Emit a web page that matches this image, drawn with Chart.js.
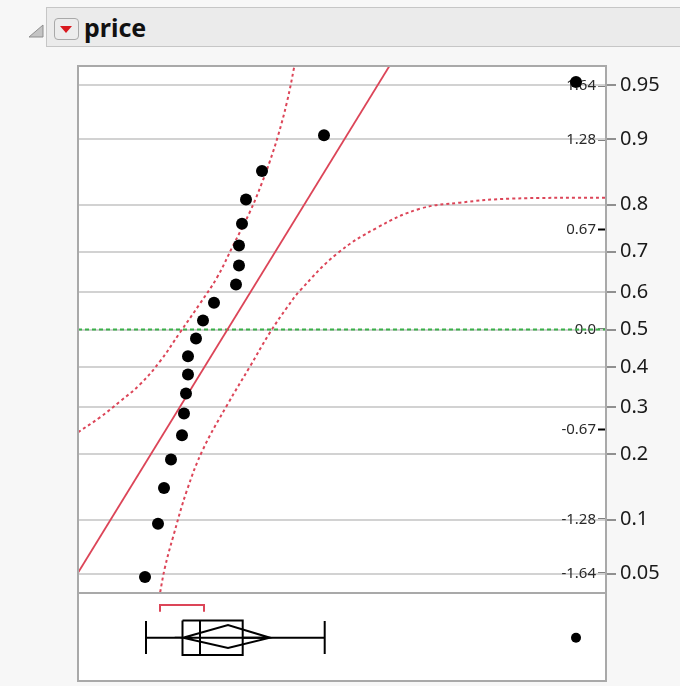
<!DOCTYPE html>
<html>
<head>
<meta charset="utf-8">
<script src="https://cdn.jsdelivr.net/npm/chart.js@4.4.1/dist/chart.umd.min.js"></script>
<style>
  html, body { margin:0; padding:0; background:#f7f7f7; }
  body { width:680px; height:686px; position:relative; overflow:hidden; font-family:"Noto Sans","Open Sans",sans-serif; }
  #hdr { position:absolute; left:46px; top:7px; width:640px; height:40px; background:#ebebeb; border:1px solid #c6c6c6; box-sizing:border-box; z-index:2; }
  #title { position:absolute; left:84px; top:9px; font-weight:bold; font-size:25px; color:#111; z-index:3; line-height:36px; }
  #disc { position:absolute; left:27px; top:24px; z-index:3; }
  #btn { position:absolute; left:54px; top:18px; width:25px; height:22px; box-sizing:border-box; border:1px solid #a9a9a9; border-radius:4px; background:#ececec; z-index:3; }
  #c1 { position:absolute; left:0; top:0; }
  #c2 { position:absolute; left:0; top:592px; }
</style>
</head>
<body>
<svg id="disc" width="18" height="15"><polygon points="16,1 16,13 2,13" fill="#c4c4c4" stroke="#8f8f8f" stroke-width="1"/></svg>
<div id="hdr"></div>
<div id="btn"><svg width="23" height="20" style="position:absolute;left:0;top:0"><polygon points="5,7 17,7 11,14" fill="#d9191f"/></svg></div>
<div id="title">price</div>
<canvas id="c1" width="680" height="600"></canvas>
<canvas id="c2" width="680" height="94"></canvas>
<script>
// ---- data ----
const prices      = [67, 80, 86, 93, 104, 106, 108, 110, 110, 118, 125, 136, 158, 161, 161, 164, 168, 184, 246, 498];
const normalQuant = [-1.668, -1.309, -1.068, -0.876, -0.712, -0.566, -0.431, -0.303, -0.180, -0.060,
                      0.060, 0.180, 0.303, 0.431, 0.566, 0.712, 0.876, 1.068, 1.309, 1.668];
const fitLineX = [0, 320];
const fitLineZ = [-1.640, 1.870];
const upperBandX = [0, 22, 42, 62, 82, 102, 122, 139, 155, 172, 184, 192, 200, 209, 216, 219];
const upperBandZ = [-0.693, -0.592, -0.485, -0.370, -0.215, -0.020, 0.175, 0.350, 0.565, 0.794, 0.989, 1.137, 1.305, 1.534, 1.763, 1.878];
const lowerBandX = [79, 82, 87, 95, 109, 125, 149, 172, 192, 209, 222, 259, 299, 342, 382, 432, 528];
const lowerBandZ = [-1.891, -1.777, -1.602, -1.400, -1.083, -0.808, -0.511, -0.249, -0.020, 0.148, 0.262, 0.511, 0.686, 0.814, 0.855, 0.882, 0.888];
const refLineX = [0, 528];
const refLineZ = [0, 0];
const probTickZ   = [1.645, 1.2816, 0.8416, 0.5244, 0.2533, 0, -0.2533, -0.5244, -0.8416, -1.2816, -1.645];
const probLabels  = ['0.95', '0.9', '0.8', '0.7', '0.6', '0.5', '0.4', '0.3', '0.2', '0.1', '0.05'];
const zTickValues = [1.645, 1.2816, 0.6745, 0, -0.6745, -1.2816, -1.645];
const zTickLabels = ['1.64', '1.28', '0.67', '0.0', '-0.67', '-1.28', '-1.64'];
// box plot summary
const whiskerEnds   = [68, 246.7];
const quartiles     = [104.5, 164.7];
const medianValue   = [122];
const meanDiamond   = [105, 150, 192];   // lower CI, mean, upper CI
const shortestHalf  = [82, 126];
const outliers      = [498];

// ---- layout / style constants ----
const X_MIN = 0, X_MAX = 528, Z_MIN = -1.776, Z_MAX = 1.776;
const RED = '#dc4558', GREEN = '#3bb04a', FRAME = '#a9a9a9';
const FONT = '"Noto Sans","Open Sans",sans-serif';
const pts = (xs, ys) => xs.map((x, i) => ({x: x, y: ys[i]}));

const framePlugin = {
  id: 'frame',
  beforeDraw(chart) {
    const a = chart.chartArea, c = chart.ctx;
    c.save(); c.fillStyle = '#ffffff'; c.fillRect(a.left, a.top, a.right - a.left, a.bottom - a.top); c.restore();
  },
  afterDraw(chart) {
    const a = chart.chartArea, c = chart.ctx;
    c.save(); c.strokeStyle = FRAME; c.lineWidth = 2;
    c.strokeRect(a.left, a.top, a.right - a.left, a.bottom - a.top); c.restore();
  }
};
const noPad = (s) => { s.paddingTop = 0; s.paddingBottom = 0; };

new Chart(document.getElementById('c1'), {
  type: 'scatter',
  data: { datasets: [
    { data: pts(prices, normalQuant), pointRadius: 6, pointBackgroundColor: '#000', pointBorderWidth: 0, showLine: false },
    { data: pts(fitLineX, fitLineZ), showLine: true, borderColor: RED, borderWidth: 1.8, pointRadius: 0 },
    { data: pts(upperBandX, upperBandZ), showLine: true, borderColor: RED, borderWidth: 2, borderDash: [3, 3], pointRadius: 0, tension: 0.4 },
    { data: pts(lowerBandX, lowerBandZ), showLine: true, borderColor: RED, borderWidth: 2, borderDash: [3, 3], pointRadius: 0, tension: 0.4 },
    { data: pts(refLineX, refLineZ), showLine: true, borderColor: GREEN, borderWidth: 2, borderDash: [4, 3], pointRadius: 0 }
  ]},
  options: {
    responsive: false, animation: false, devicePixelRatio: 1,
    layout: { autoPadding: false, padding: { left: 78, top: 66, right: 0, bottom: 7 } },
    plugins: { legend: { display: false }, tooltip: { enabled: false } },
    scales: {
      x: { type: 'linear', min: X_MIN, max: X_MAX, display: false },
      yz: {
        type: 'linear', position: 'right', min: Z_MIN, max: Z_MAX, weight: 0,
        afterFit(s) { s.width = 0; noPad(s); },
        afterBuildTicks(s) { s.ticks = zTickValues.map(v => ({ value: v })); },
        ticks: { mirror: true, padding: -10, autoSkip: false, color: '#2a2a2a', font: { family: FONT, size: 15 },
                 callback: (v, i) => zTickLabels[i] },
        grid: { drawOnChartArea: false, drawTicks: true, tickLength: -8, tickColor: '#000', tickWidth: 2 },
        border: { display: false }
      },
      y: {
        type: 'linear', position: 'right', min: Z_MIN, max: Z_MAX, weight: 1,
        afterFit(s) { s.width = 74; noPad(s); },
        afterBuildTicks(s) { s.ticks = probTickZ.map(v => ({ value: v })); },
        ticks: { padding: 4, autoSkip: false, color: '#1a1a1a', font: { family: FONT, size: 20 },
                 callback: (v, i) => probLabels[i] },
        grid: { color: '#d2d2d2', lineWidth: 2, tickLength: 10, tickColor: '#6e6e6e', tickWidth: 1.5 },
        border: { display: true, color: FRAME, width: 2 }
      }
    }
  },
  plugins: [framePlugin]
});

// ---- box plot ----
const CY = 44.7, BOX_T = 27.5, BOX_B = 62, CAP_T = 28, CAP_B = 61, DIA_T = 32, DIA_B = 55, BR_Y = 12, BR_B = 18.7;
const lineDs = (data, color, dash) => ({ data: data, showLine: true, borderColor: color || '#000', borderWidth: 2, pointRadius: 0, borderDash: dash || [] });
new Chart(document.getElementById('c2'), {
  type: 'scatter',
  data: { datasets: [
    { data: outliers.map(x => ({ x: x, y: CY })), pointRadius: 5, pointBackgroundColor: '#000', pointBorderWidth: 0 },
    lineDs([{x: whiskerEnds[0], y: CY}, {x: quartiles[0], y: CY}]),
    lineDs([{x: quartiles[1], y: CY}, {x: whiskerEnds[1], y: CY}]),
    lineDs([{x: whiskerEnds[0], y: CAP_T}, {x: whiskerEnds[0], y: CAP_B}]),
    lineDs([{x: whiskerEnds[1], y: CAP_T}, {x: whiskerEnds[1], y: CAP_B}]),
    lineDs([{x: quartiles[0], y: BOX_T}, {x: quartiles[1], y: BOX_T}, {x: quartiles[1], y: BOX_B}, {x: quartiles[0], y: BOX_B}, {x: quartiles[0], y: BOX_T}]),
    lineDs([{x: medianValue[0], y: BOX_T}, {x: medianValue[0], y: BOX_B}]),
    lineDs([{x: meanDiamond[0], y: CY}, {x: meanDiamond[1], y: DIA_T}, {x: meanDiamond[2], y: CY}, {x: meanDiamond[1], y: DIA_B}, {x: meanDiamond[0], y: CY}, {x: meanDiamond[2], y: CY}]),
    lineDs([{x: shortestHalf[0], y: BR_B}, {x: shortestHalf[0], y: BR_Y}, {x: shortestHalf[1], y: BR_Y}, {x: shortestHalf[1], y: BR_B}], RED)
  ]},
  options: {
    responsive: false, animation: false, devicePixelRatio: 1,
    layout: { autoPadding: false, padding: { left: 78, top: 1, right: 74, bottom: 5 } },
    plugins: { legend: { display: false }, tooltip: { enabled: false } },
    scales: {
      x: { type: 'linear', min: X_MIN, max: X_MAX, display: false },
      y: { type: 'linear', min: 0, max: 88, reverse: true, display: false }
    }
  },
  plugins: [framePlugin]
});
</script>
</body>
</html>
